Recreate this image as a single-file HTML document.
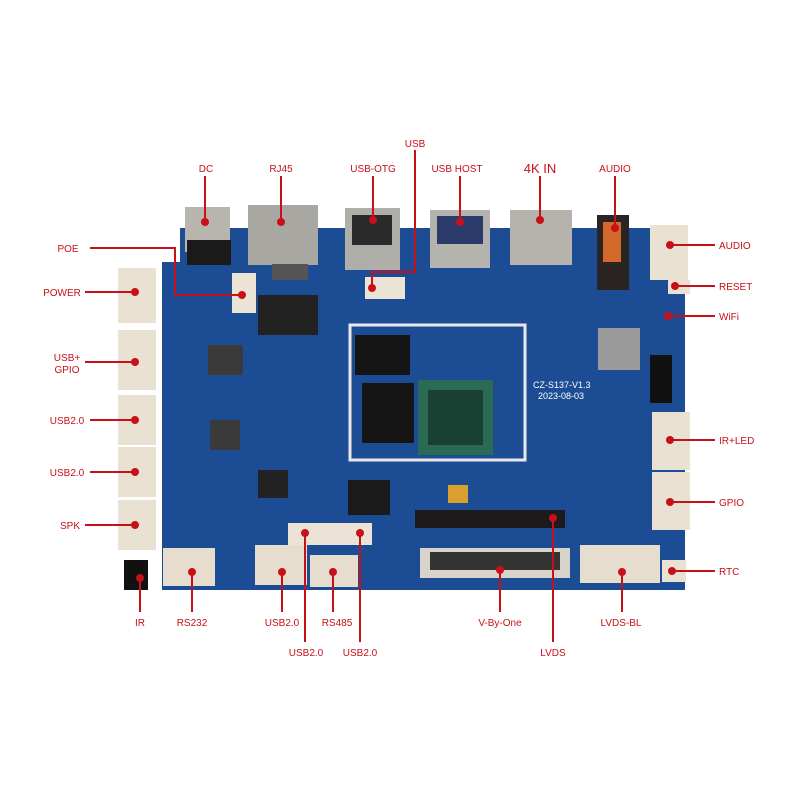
<!DOCTYPE html>
<html><head><style>
html,body{margin:0;padding:0;background:#fff;}
svg{display:block}
text{font-family:"Liberation Sans",sans-serif;font-size:10px;fill:#c8101a;}
</style></head><body>
<svg width="800" height="800" viewBox="0 0 800 800" xmlns="http://www.w3.org/2000/svg">
<!-- board -->
<path d="M180 228 L688 228 L688 262 L680 262 L680 590 L162 590 L162 262 L180 262 Z" fill="#1c4c94"/>
<rect x="170" y="262" width="515" height="328" fill="#1c4c94"/>
<!-- top connectors -->
<rect x="185" y="207" width="45" height="45" fill="#b8b5ae"/>
<rect x="187" y="240" width="44" height="25" fill="#1a1a1a"/>
<rect x="248" y="205" width="70" height="60" fill="#a9a7a2"/>
<rect x="272" y="264" width="36" height="16" fill="#555"/>
<rect x="345" y="208" width="55" height="62" fill="#b0aea8"/>
<rect x="352" y="215" width="40" height="30" fill="#2a2a2a"/>
<rect x="430" y="210" width="60" height="58" fill="#b5b3ad"/>
<rect x="437" y="216" width="46" height="28" fill="#2a3a6a"/>
<rect x="510" y="210" width="62" height="55" fill="#b6b3ac"/>
<rect x="597" y="215" width="32" height="75" fill="#2a2522"/>
<rect x="603" y="222" width="18" height="40" fill="#d46a2a"/>
<!-- left white connectors -->
<rect x="118" y="268" width="38" height="55" fill="#e9e1d2"/>
<rect x="118" y="330" width="38" height="60" fill="#e9e1d2"/>
<rect x="118" y="395" width="38" height="50" fill="#e9e1d2"/>
<rect x="118" y="447" width="38" height="50" fill="#e9e1d2"/>
<rect x="118" y="500" width="38" height="50" fill="#e9e1d2"/>
<rect x="232" y="273" width="24" height="40" fill="#ebe4d6"/>
<rect x="365" y="277" width="40" height="22" fill="#ebe4d6"/>
<!-- right connectors -->
<rect x="650" y="225" width="38" height="55" fill="#e9e1d2"/>
<rect x="668" y="280" width="22" height="14" fill="#e9e1d2"/>
<rect x="652" y="412" width="38" height="58" fill="#e9e1d2"/>
<rect x="652" y="472" width="38" height="58" fill="#e9e1d2"/>
<rect x="662" y="560" width="24" height="22" fill="#e9e1d2"/>
<!-- bottom connectors -->
<rect x="163" y="548" width="52" height="38" fill="#e6ddce"/>
<rect x="124" y="560" width="24" height="30" fill="#111"/>
<rect x="255" y="545" width="52" height="40" fill="#e6ddce"/>
<rect x="310" y="555" width="48" height="32" fill="#e6ddce"/>
<rect x="288" y="523" width="42" height="22" fill="#ebe4d6"/>
<rect x="330" y="523" width="42" height="22" fill="#ebe4d6"/>
<rect x="580" y="545" width="80" height="38" fill="#e6ddce"/>
<rect x="420" y="548" width="150" height="30" fill="#d8d4cc"/>
<rect x="430" y="552" width="130" height="18" fill="#333"/>
<rect x="415" y="510" width="150" height="18" fill="#1c1a1a"/>
<!-- chips -->
<rect x="350" y="325" width="175" height="135" fill="none" stroke="#e8e8e8" stroke-width="3"/>
<rect x="355" y="335" width="55" height="40" fill="#151515"/>
<rect x="362" y="383" width="52" height="60" fill="#151515"/>
<rect x="418" y="380" width="75" height="75" fill="#2b6a55"/>
<rect x="428" y="390" width="55" height="55" fill="#1a4033"/>
<rect x="258" y="295" width="60" height="40" fill="#222"/>
<rect x="208" y="345" width="35" height="30" fill="#3a3a3a"/>
<rect x="210" y="420" width="30" height="30" fill="#3a3a3a"/>
<rect x="258" y="470" width="30" height="28" fill="#222"/>
<rect x="348" y="480" width="42" height="35" fill="#1a1a1a"/>
<rect x="598" y="328" width="42" height="42" fill="#9a9a9a"/>
<rect x="650" y="355" width="22" height="48" fill="#111"/>
<rect x="448" y="485" width="20" height="18" fill="#d9a030"/>
<text x="533" y="388" style="fill:#fff;font-size:9px">CZ-S137-V1.3</text>
<text x="538" y="399" style="fill:#fff;font-size:9px">2023-08-03</text>
<!-- red lines -->
<g stroke="#c8101a" stroke-width="2" fill="none">
<line x1="205" y1="176" x2="205" y2="222"/>
<line x1="281" y1="176" x2="281" y2="222"/>
<line x1="373" y1="176" x2="373" y2="220"/>
<polyline points="415,150 415,272 372,272 372,288"/>
<line x1="460" y1="176" x2="460" y2="222"/>
<line x1="540" y1="176" x2="540" y2="220"/>
<line x1="615" y1="176" x2="615" y2="228"/>
<polyline points="90,248 175,248 175,295 242,295"/>
<line x1="85" y1="292" x2="135" y2="292"/>
<line x1="85" y1="362" x2="135" y2="362"/>
<line x1="90" y1="420" x2="135" y2="420"/>
<line x1="90" y1="472" x2="135" y2="472"/>
<line x1="85" y1="525" x2="135" y2="525"/>
<line x1="140" y1="578" x2="140" y2="612"/>
<line x1="192" y1="572" x2="192" y2="612"/>
<line x1="282" y1="572" x2="282" y2="612"/>
<line x1="333" y1="572" x2="333" y2="612"/>
<line x1="305" y1="533" x2="305" y2="642"/>
<line x1="360" y1="533" x2="360" y2="642"/>
<line x1="500" y1="570" x2="500" y2="612"/>
<line x1="553" y1="518" x2="553" y2="642"/>
<line x1="622" y1="572" x2="622" y2="612"/>
<line x1="670" y1="245" x2="715" y2="245"/>
<line x1="675" y1="286" x2="715" y2="286"/>
<line x1="668" y1="316" x2="715" y2="316"/>
<line x1="670" y1="440" x2="715" y2="440"/>
<line x1="670" y1="502" x2="715" y2="502"/>
<line x1="672" y1="571" x2="715" y2="571"/>
</g>
<g fill="#c8101a">
<circle cx="205" cy="222" r="4"/><circle cx="281" cy="222" r="4"/><circle cx="373" cy="220" r="4"/>
<circle cx="372" cy="288" r="4"/><circle cx="460" cy="222" r="4"/><circle cx="540" cy="220" r="4"/>
<circle cx="615" cy="228" r="4"/><circle cx="242" cy="295" r="4"/><circle cx="135" cy="292" r="4"/>
<circle cx="135" cy="362" r="4"/><circle cx="135" cy="420" r="4"/><circle cx="135" cy="472" r="4"/>
<circle cx="135" cy="525" r="4"/><circle cx="140" cy="578" r="4"/><circle cx="192" cy="572" r="4"/>
<circle cx="282" cy="572" r="4"/><circle cx="333" cy="572" r="4"/><circle cx="305" cy="533" r="4"/>
<circle cx="360" cy="533" r="4"/><circle cx="500" cy="570" r="4"/><circle cx="553" cy="518" r="4"/>
<circle cx="622" cy="572" r="4"/><circle cx="670" cy="245" r="4"/><circle cx="675" cy="286" r="4"/>
<circle cx="668" cy="316" r="4"/><circle cx="670" cy="440" r="4"/><circle cx="670" cy="502" r="4"/>
<circle cx="672" cy="571" r="4"/>
</g>
<!-- labels -->
<g text-anchor="middle">
<text x="206" y="172">DC</text>
<text x="281" y="172">RJ45</text>
<text x="373" y="172">USB-OTG</text>
<text x="415" y="147">USB</text>
<text x="457" y="172">USB HOST</text>
<text x="540" y="173" style="font-size:13px">4K IN</text>
<text x="615" y="172">AUDIO</text>
<text x="140" y="626">IR</text>
<text x="192" y="626">RS232</text>
<text x="282" y="626">USB2.0</text>
<text x="337" y="626">RS485</text>
<text x="306" y="656">USB2.0</text>
<text x="360" y="656">USB2.0</text>
<text x="500" y="626">V-By-One</text>
<text x="553" y="656">LVDS</text>
<text x="621" y="626">LVDS-BL</text>
<text x="68" y="252">POE</text>
<text x="62" y="296">POWER</text>
<text x="67" y="361">USB+</text>
<text x="67" y="373">GPIO</text>
<text x="67" y="424">USB2.0</text>
<text x="67" y="476">USB2.0</text>
<text x="70" y="529">SPK</text>
</g>
<text x="719" y="249">AUDIO</text>
<text x="719" y="290">RESET</text>
<text x="719" y="320">WiFi</text>
<text x="719" y="444">IR+LED</text>
<text x="719" y="506">GPIO</text>
<text x="719" y="575">RTC</text>
</svg>
</body></html>
